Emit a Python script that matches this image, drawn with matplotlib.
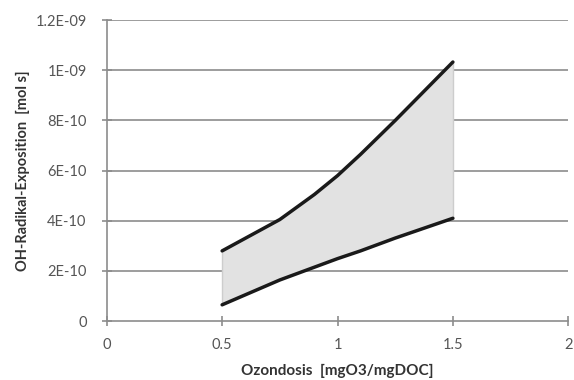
import matplotlib
matplotlib.use('Agg')
import matplotlib.pyplot as plt

# values
dose = [0.5, 0.75, 0.9, 1.0, 1.1, 1.25, 1.5]
upper = [2.8e-10, 4.05e-10, 5.05e-10, 5.8e-10, 6.65e-10, 8.0e-10, 1.033e-09]
lower = [0.65e-10, 1.64e-10, 2.15e-10, 2.49e-10, 2.8e-10, 3.31e-10, 4.1e-10]

yticks = [0, 2e-10, 4e-10, 6e-10, 8e-10, 1e-09, 1.2e-09]
ylabels = ['0', '2E-10', '4E-10', '6E-10', '8E-10', '1E-09', '1.2E-09']
xticks = [0, 0.5, 1, 1.5, 2]
xlabels = ['0', '0.5', '1', '1.5', '2']

plt.rcParams['font.family'] = ['Lato', 'DejaVu Sans']

fig = plt.figure(figsize=(5.74, 3.8), dpi=100)
ax = fig.add_axes([0.186, 0.155, 0.804, 0.792])

ax.fill_between(dose, lower, upper, color='#e2e2e2', lw=0, zorder=1)
ax.plot([dose[0], dose[0]], [lower[0], upper[0]], color='#cdcdcd', lw=1, zorder=1)
ax.plot([dose[-1], dose[-1]], [lower[-1], upper[-1]], color='#cdcdcd', lw=1, zorder=1)
ax.plot(dose, upper, color='#1a1a1a', lw=2.5, solid_capstyle='round',
        solid_joinstyle='round', zorder=3)
ax.plot(dose, lower, color='#1a1a1a', lw=2.5, solid_capstyle='round',
        solid_joinstyle='round', zorder=3)

ax.set_xlim(0, 2)
ax.set_ylim(0, 1.2e-09)
ax.set_yticks(yticks)
ax.set_yticklabels(ylabels)
ax.set_xticks(xticks)
ax.set_xticklabels(xlabels)

for y in yticks[1:]:
    ax.axhline(y, color='#8c8c8c', lw=1.2, zorder=0)

for s in ['top', 'right']:
    ax.spines[s].set_visible(False)
for s in ['left', 'bottom']:
    ax.spines[s].set_color('#8c8c8c')
    ax.spines[s].set_linewidth(1.2)

ax.tick_params(axis='both', colors='#8c8c8c', labelcolor='#555555', labelsize=10.5,
               direction='inout', length=7, width=1.2)
ax.tick_params(axis='y', pad=11)
ax.tick_params(axis='x', pad=9)

ax.set_xlabel('Ozondosis  [mgO3/mgDOC]', fontsize=11, fontweight='bold', color='#333333', labelpad=8)
ax.set_ylabel('OH-Radikal-Exposition  [mol s]', fontsize=10.5, fontweight='bold', color='#333333', labelpad=4)

fig.savefig('out.png', dpi=100)
